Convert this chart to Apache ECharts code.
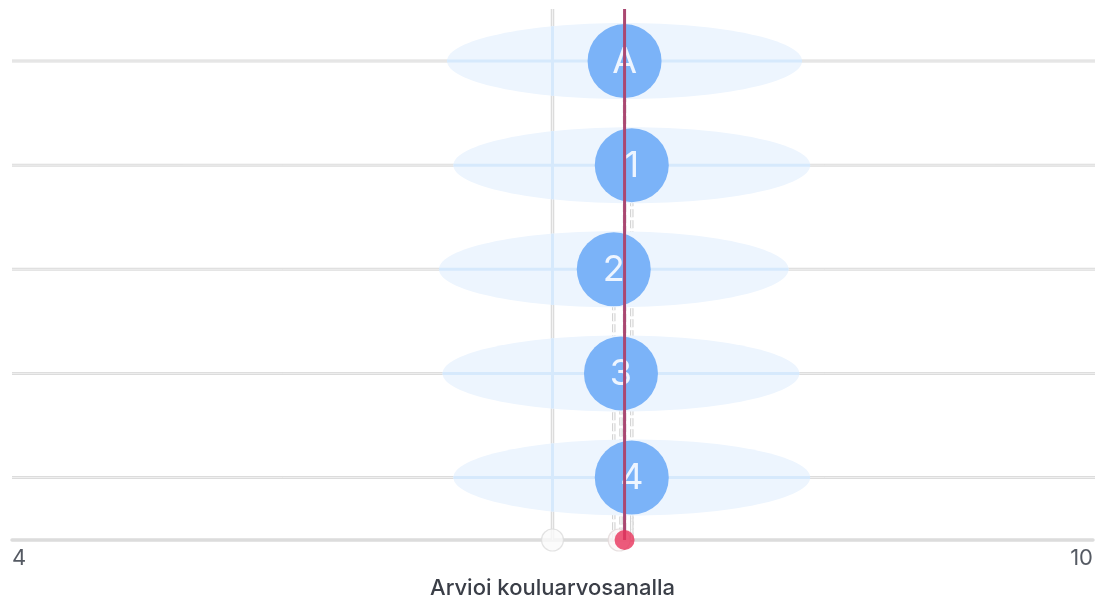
<!DOCTYPE html>
<html><head><meta charset="utf-8">
<script src="https://cdn.jsdelivr.net/npm/echarts@6/dist/echarts.min.js"></script>
<style>html,body{margin:0;padding:0;background:#fff}#c{width:1095px;height:600px}</style>
</head><body><div id="c"></div>
<script>
// ---- data ----
const rowLabels = ['A', '1', '2', '3', '4'];
const rowMeans = [7.40, 7.44, 7.34, 7.38, 7.44];
const rowSpread = [0.985, 0.99, 0.97, 0.99, 0.99];
const referenceValue = 7.0;
const answerValue = 7.40;
const groupAverage = 7.37;
const axisMin = 4, axisMax = 10;
const axisTicks = [4, 10];
const axisTitle = 'Arvioi kouluarvosanalla';

const yMin = -0.6, yMax = 4.5;
const rowData = rowLabels.map((l, i) => [rowMeans[i], rowLabels.length - 1 - i, rowSpread[i]]);

const chart = echarts.init(document.getElementById('c'));

function renderBack(params, api) {
  const mean = api.value(0), y = api.value(1);
  const c = api.coord([mean, y]);
  const l = api.coord([axisMin, y]);
  const bottom = api.coord([mean, yMin]);
  const rightEdge = params.coordSys.x + params.coordSys.width + 2;
  return {
    type: 'group', children: [
      { type: 'line', shape: { x1: l[0], y1: c[1], x2: rightEdge, y2: c[1] }, style: { stroke: '#dcdcdc', lineWidth: 3 } },
      { type: 'line', shape: { x1: l[0], y1: c[1], x2: rightEdge, y2: c[1] }, style: { stroke: '#efefef', lineWidth: 1 } },
      { type: 'line', shape: { x1: c[0], y1: c[1], x2: c[0], y2: bottom[1] }, style: { stroke: '#d4d4d4', lineWidth: 3.5, lineDash: [8, 3] } },
      { type: 'line', shape: { x1: c[0], y1: c[1], x2: c[0], y2: bottom[1] }, style: { stroke: '#ffffff', lineWidth: 1.2, lineDash: [8, 3] } }
    ]
  };
}

function renderRef(params, api) {
  const top = api.coord([referenceValue, yMax]);
  const bot = api.coord([referenceValue, yMin]);
  return {
    type: 'group', children: [
      { type: 'line', shape: { x1: top[0], y1: top[1], x2: bot[0], y2: bot[1] }, style: { stroke: '#dcdcdc', lineWidth: 3.5 } },
      { type: 'line', shape: { x1: top[0], y1: top[1], x2: bot[0], y2: bot[1] }, style: { stroke: '#f2f2f2', lineWidth: 1 } }
    ]
  };
}

function renderEllipse(params, api) {
  const mean = api.value(0), y = api.value(1), s = api.value(2);
  const c = api.coord([mean, y]);
  const l = api.coord([mean - s, y]);
  const r = api.coord([mean + s, y]);
  const rx = (r[0] - l[0]) / 2, ry = 38;
  const children = [
    { type: 'ellipse', shape: { cx: c[0], cy: c[1], rx: rx, ry: ry }, style: { fill: '#edf5fe' } },
    { type: 'line', shape: { x1: l[0], y1: c[1], x2: r[0], y2: c[1] }, style: { stroke: '#d6e9fc', lineWidth: 3 } }
  ];
  const ref = api.coord([referenceValue, y]);
  const dx = (ref[0] - c[0]) / rx;
  if (Math.abs(dx) < 1) {
    const h = ry * Math.sqrt(1 - dx * dx);
    children.push({ type: 'line', shape: { x1: ref[0], y1: c[1] - h, x2: ref[0], y2: c[1] + h }, style: { stroke: '#d6e9fc', lineWidth: 3 } });
  }
  return { type: 'group', children: children };
}

function renderCircle(params, api) {
  const mean = api.value(0), y = api.value(1);
  const c = api.coord([mean, y]);
  return {
    type: 'group', children: [
      { type: 'circle', shape: { cx: c[0], cy: c[1], r: 37 }, style: { fill: '#7bb3f8' } },
      { type: 'text', x: c[0], y: c[1] + 1, style: { text: rowLabels[params.dataIndex], align: 'center', verticalAlign: 'middle', fill: '#eef5ff', fontSize: 36, fontWeight: 400, fontFamily: 'Inter' } }
    ]
  };
}

function renderAnswer(params, api) {
  const top = api.coord([answerValue, yMax]);
  const bot = api.coord([answerValue, yMin]);
  return {
    type: 'group', children: [
      { type: 'line', shape: { x1: top[0], y1: top[1], x2: bot[0], y2: bot[1] }, style: { stroke: '#aa4872', lineWidth: 3 } }
    ]
  };
}

chart.setOption({
  animation: false,
  grid: { left: 12, right: 2, top: 9, bottom: 60, outerBoundsMode: 'none', containLabel: false },
  xAxis: {
    type: 'value', min: axisMin, max: axisMax, interval: axisTicks[1] - axisTicks[0],
    axisLine: { show: true, onZero: false, lineStyle: { color: '#dcdcdc', width: 3.5 } },
    axisTick: { show: false }, splitLine: { show: false },
    axisLabel: { show: true, fontSize: 22, color: '#555a63', fontFamily: 'Inter', margin: 7, alignMinLabel: 'left', alignMaxLabel: 'right' },
    name: axisTitle, nameLocation: 'middle', nameGap: 37,
    nameTextStyle: { fontSize: 22, fontWeight: 500, color: '#3a3e47', fontFamily: 'Inter' }
  },
  yAxis: { type: 'value', min: yMin, max: yMax, show: false },
  series: [
    { type: 'custom', z: 1, renderItem: renderRef, data: [[referenceValue, 0]], clip: false, silent: true },
    { type: 'custom', z: 2, renderItem: renderBack, data: rowData, clip: false, silent: true },
    { type: 'custom', z: 3, renderItem: renderEllipse, data: rowData, clip: false, silent: true },
    { type: 'custom', z: 4, renderItem: renderCircle, data: rowData, clip: false, silent: true },
    { type: 'scatter', z: 5, data: [[referenceValue, yMin]], symbolSize: 22, clip: false, silent: true,
      itemStyle: { color: '#fafafa', borderColor: '#dcdcdc', borderWidth: 1.2 } },
    { type: 'scatter', z: 5, data: [[groupAverage, yMin]], symbolSize: 22, clip: false, silent: true,
      itemStyle: { color: '#fbf5f6', borderColor: '#e2dada', borderWidth: 1.2 } },
    { type: 'custom', z: 6, renderItem: renderAnswer, data: [[answerValue, 0]], clip: false, silent: true },
    { type: 'scatter', z: 7, data: [[answerValue, yMin]], symbolSize: 20, clip: false, silent: true,
      itemStyle: { color: '#e8335b' } }
  ]
});
</script>
</body></html>
